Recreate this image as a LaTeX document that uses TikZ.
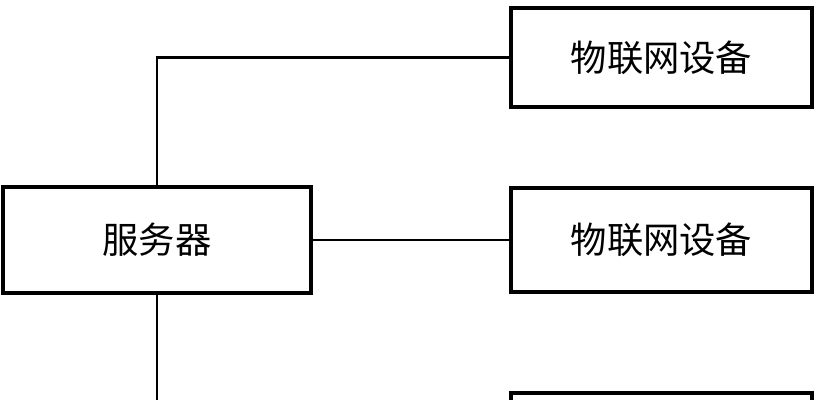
\documentclass[tikz,border=0pt]{standalone}
\usepackage{fontspec}
\newfontfamily\cjk{Noto Sans CJK SC}
\begin{document}
\begin{tikzpicture}[x=0.03cm, y=-0.03cm,
			box/.style={draw, line width=2.6pt, inner sep=0pt, font=\cjk\fontsize{31}{31}\selectfont},
			link/.style={line width=1.8pt}]
			\useasboundingbox (0,0) rectangle (821,400);
			
			% server and devices
			\node[box, minimum width=9.24cm, minimum height=3.18cm] (srv) at (157,240) {服务器};
			\node[box, minimum width=9.03cm, minimum height=2.97cm] (dev1) at (661.5,57.5) {物联网设备};
			\node[box, minimum width=9.03cm, minimum height=3.12cm] (dev2) at (661.5,240) {物联网设备};
			\node[box, minimum width=9.03cm, minimum height=3.0cm] (dev3) at (661.5,443) {};
			
			% connections
			\draw[link] (srv.north) |- (dev1.west);
			\draw[link] (srv.east) -- (dev2.west);
			\draw[link] (srv.south) |- (dev3.west);
\end{tikzpicture}
\end{document}
